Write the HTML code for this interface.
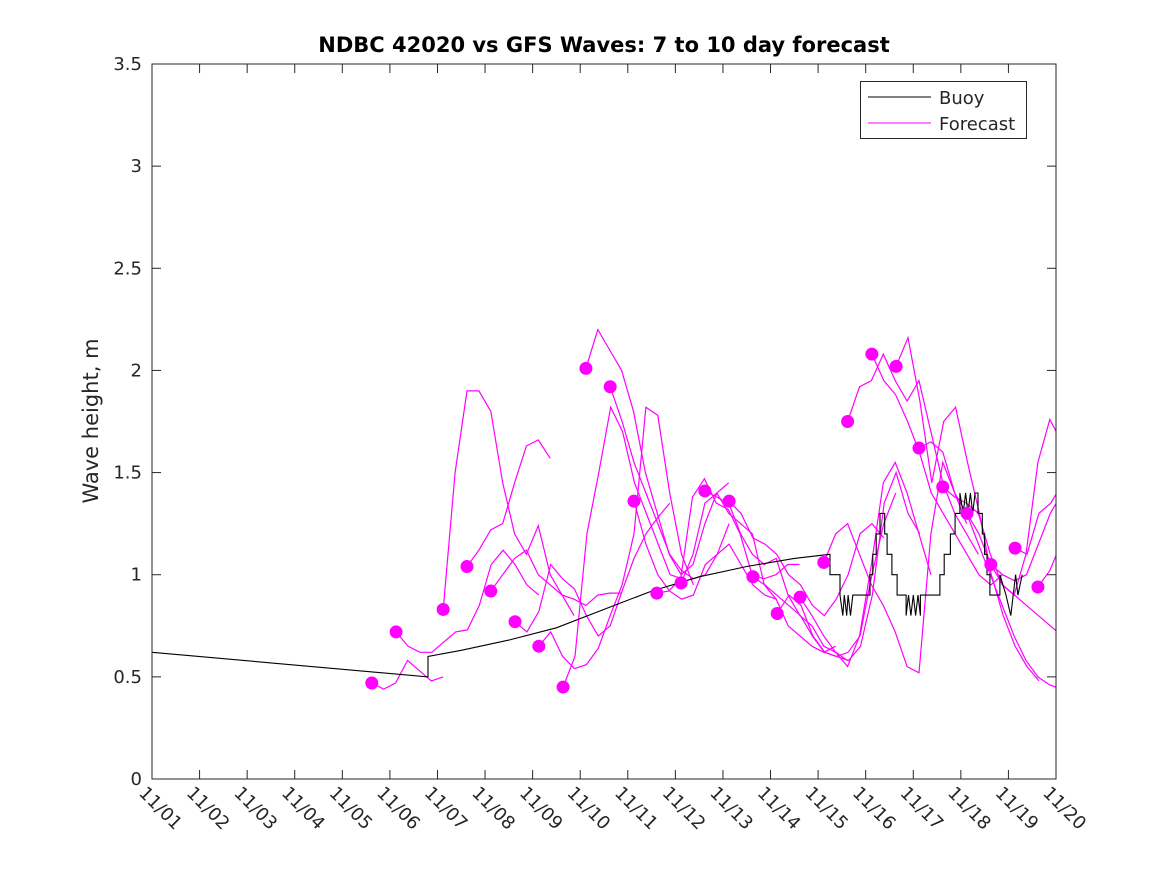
<!DOCTYPE html>
<html><head><meta charset="utf-8"><style>
html,body{margin:0;padding:0;background:#fff;}
svg text{font-family:"DejaVu Sans","Liberation Sans",sans-serif;fill:#262626;}
</style></head><body>
<svg id="chart" width="1167" height="875" xmlns="http://www.w3.org/2000/svg">
<rect width="1167" height="875" fill="#fff"/>
<text x="604" y="52" text-anchor="middle" font-size="21" font-weight="bold" style="fill:#000">NDBC 42020 vs GFS Waves: 7 to 10 day forecast</text>
<text transform="translate(98,421) rotate(-90)" text-anchor="middle" font-size="21">Wave height, m</text>
<defs><clipPath id="pc"><rect x="152" y="64" width="904" height="715"/></clipPath></defs>
<g id="forecast" clip-path="url(#pc)"></g>
<g id="buoy" clip-path="url(#pc)"></g>
<g id="dots"></g>
<rect x="152" y="64" width="904" height="715" fill="none" stroke="#262626" stroke-width="1"/>
<g id="axes"></g>
<g>
<rect x="860.5" y="81.5" width="166" height="57" fill="#fff" stroke="#262626"/>
<line x1="868" y1="97" x2="931" y2="97" stroke="#000"/>
<text x="939" y="104" font-size="18">Buoy</text>
<line x1="868" y1="123" x2="931" y2="123" stroke="#ff00ff"/>
<text x="939" y="130" font-size="18">Forecast</text>
</g>
</svg>
<script>
const xTickLabels=["11/01","11/02","11/03","11/04","11/05","11/06","11/07","11/08","11/09","11/10","11/11","11/12","11/13","11/14","11/15","11/16","11/17","11/18","11/19","11/20"];
const yTicks=[0,0.5,1,1.5,2,2.5,3,3.5];
const yTickLabels=["0","0.5","1","1.5","2","2.5","3","3.5"];
const runStarts=[4.62,5.13,6.12,6.62,7.12,7.63,8.13,8.64,9.12,9.63,10.13,10.61,11.12,11.62,12.13,12.63,13.14,13.62,14.12,14.62,15.13,15.64,16.12,16.62,17.13,17.63,18.14,18.62];
const runValues=[
[0.47,0.44,0.47,0.58,0.53,0.48,0.50],
[0.72,0.65,0.62,0.62,0.67,0.72,0.73,0.85,1.05,1.12,1.05,0.95,0.90],
[0.83,1.5,1.9,1.9,1.8,1.45,1.2,1.1,1.24,1.0,0.9,0.8],
[1.04,1.12,1.22,1.25,1.45,1.63,1.66,1.57],
[0.92,1.0,1.08,1.12,1.0,0.95,0.90,0.88,0.85,0.90,0.91,0.91],
[0.77,0.72,0.82,1.05,0.98,0.93,0.80,0.70,0.75,0.92,1.08,1.20,1.28,1.35],
[0.65,0.72,0.60,0.54,0.56,0.64,0.80,0.95,1.20,1.82,1.78,1.40,1.10,0.95],
[0.45,0.60,1.20,1.50,1.82,1.70,1.45,1.30,1.15,1.00,0.98],
[2.01,2.2,2.1,2.0,1.8,1.5,1.3,1.1,1.0,1.05,1.25,1.40,1.45],
[1.92,1.75,1.55,1.40,1.25,1.10,1.02,0.98,1.00,1.10,1.25],
[1.36,1.15,1.00,0.92,0.88,0.90,1.05,1.10,1.15,1.05,0.95,0.90,0.88],
[0.91,0.92,0.98,1.38,1.47,1.35,1.32,1.20,1.00,0.98,1.00,1.05,1.05],
[0.96,1.10,1.35,1.40,1.30,1.25,1.20,0.95,0.88,0.75,0.70,0.65,0.62,0.65],
[1.41,1.38,1.35,1.20,1.10,1.05,1.08,0.90,0.80,0.75,0.65,0.62,0.58],
[1.36,1.30,1.18,1.15,1.10,1.00,0.95,0.85,0.80,0.88,1.00,1.20,1.25,1.18],
[0.99,0.95,0.90,0.85,0.80,0.70,0.62,0.60,0.62,0.70,1.00,1.25,1.40],
[0.81,0.90,0.85,0.70,0.62,0.60,0.58,0.65,0.90,1.35,1.50,1.30,1.20],
[0.89,0.80,0.70,0.62,0.55,0.70,1.05,1.45,1.55,1.40,1.20,1.00],
[1.06,1.20,1.25,1.10,0.95,0.85,0.72,0.55,0.52,1.20,1.55,1.40,1.25],
[1.75,1.92,1.95,2.08,1.95,1.85,1.95,1.70,1.45,1.30,1.20,1.10],
[2.08,1.95,1.88,1.75,1.60,1.40,1.30,1.20,1.10,1.00,0.95,1.00],
[2.02,2.16,1.85,1.45,1.75,1.82,1.55,1.30,1.00,0.80,0.65,0.55,0.48],
[1.62,1.65,1.60,1.40,1.30,1.15,1.00,0.85,0.70,0.58,0.50,0.46,0.44,0.48,0.52,0.50,0.47,0.45,0.42],
[1.43,1.38,1.35,1.30,1.10,0.95,0.90,1.10,1.55,1.76,1.65,1.50,1.35],
[1.30,1.20,1.05,0.95,0.90,0.85,0.80,0.75,0.70,0.65,0.60,0.58,0.57],
[1.05,1.00,0.97,1.00,1.15,1.30,1.40,1.46,1.45,1.40],
[1.13,1.10,1.30,1.35,1.45,1.55,1.95],
[0.94,1.02,1.16]];
const buoyDays=[0,5.8,5.8,6.5,7.5,8.5,9.5,10.5,11.5,12.5,13.5,14.25,14.25,14.46,14.46,14.52,14.55,14.6,14.63,14.68,14.73,14.73,15.09,15.09,15.15,15.15,15.22,15.22,15.3,15.3,15.4,15.4,15.45,15.45,15.55,15.55,15.66,15.66,15.85,15.85,15.9,15.95,16.0,16.05,16.1,16.15,16.15,16.56,16.56,16.65,16.65,16.78,16.78,16.88,16.88,16.98,16.98,17.05,17.1,17.15,17.2,17.25,17.3,17.36,17.36,17.45,17.45,17.5,17.5,17.55,17.55,17.61,17.61,17.82,17.82,17.95,17.95,18.05,18.1,18.15,18.2,18.29];
const buoyValues=[0.62,0.50,0.60,0.63,0.68,0.74,0.83,0.92,0.99,1.04,1.08,1.10,1.00,1.00,0.90,0.80,0.90,0.80,0.90,0.80,0.90,0.90,0.90,1.00,1.00,1.10,1.10,1.20,1.20,1.30,1.30,1.20,1.20,1.10,1.10,1.00,1.00,0.90,0.90,0.80,0.90,0.80,0.90,0.80,0.90,0.80,0.90,0.90,1.00,1.00,1.10,1.10,1.20,1.20,1.30,1.30,1.40,1.30,1.40,1.30,1.40,1.30,1.40,1.40,1.30,1.30,1.20,1.20,1.10,1.10,1.00,1.00,0.90,0.90,1.00,0.90,0.90,0.80,0.90,1.00,0.90,1.00];
const stepDays=0.25;
const X0=152,X1=1056,Y0=779,Y1=64,DMAX=19,VMAX=3.5;
const xS=d=>X0+(X1-X0)*d/DMAX;
const yS=v=>Y0-(Y0-Y1)*v/VMAX;
const NS="http://www.w3.org/2000/svg";
function mk(tag,attrs,parent){const e=document.createElementNS(NS,tag);for(const k in attrs)e.setAttribute(k,attrs[k]);parent.appendChild(e);return e;}
const fg=document.getElementById('forecast'),dg=document.getElementById('dots'),bg=document.getElementById('buoy'),ag=document.getElementById('axes');
runValues.forEach((vals,i)=>{
  const pts=vals.map((v,j)=>xS(runStarts[i]+j*stepDays).toFixed(1)+","+yS(v).toFixed(1)).join(" ");
  const pl=mk('polyline',{points:pts,fill:'none',stroke:'#ff00ff','stroke-width':1.2},fg);
  
  
  const c=mk('circle',{cx:xS(runStarts[i]),cy:yS(vals[0]),r:6.5,fill:'#ff00ff'},dg);
  
  
});
const bp=mk('polyline',{points:buoyDays.map((d,i)=>xS(d).toFixed(1)+","+yS(buoyValues[i]).toFixed(1)).join(" "),fill:'none',stroke:'#000','stroke-width':1.1},bg);


xTickLabels.forEach((lab,i)=>{
  const x=xS(i);
  mk('line',{x1:x,y1:Y0,x2:x,y2:Y0-9,stroke:'#262626'},ag);
  mk('line',{x1:x,y1:Y1,x2:x,y2:Y1+9,stroke:'#262626'},ag);
  const t=mk('text',{x:0,y:0,'font-size':18,transform:`translate(${x-14},${Y0+15}) rotate(45)`},ag);
  t.textContent=lab;
  
  
});
yTicks.forEach((v,i)=>{
  const y=yS(v);
  mk('line',{x1:X0,y1:y,x2:X0+9,y2:y,stroke:'#262626'},ag);
  mk('line',{x1:X1,y1:y,x2:X1-9,y2:y,stroke:'#262626'},ag);
  const t=mk('text',{x:X0-10,y:y+6,'font-size':18,'text-anchor':'end'},ag);
  t.textContent=yTickLabels[i];
  
  
});
</script>
</body></html>
